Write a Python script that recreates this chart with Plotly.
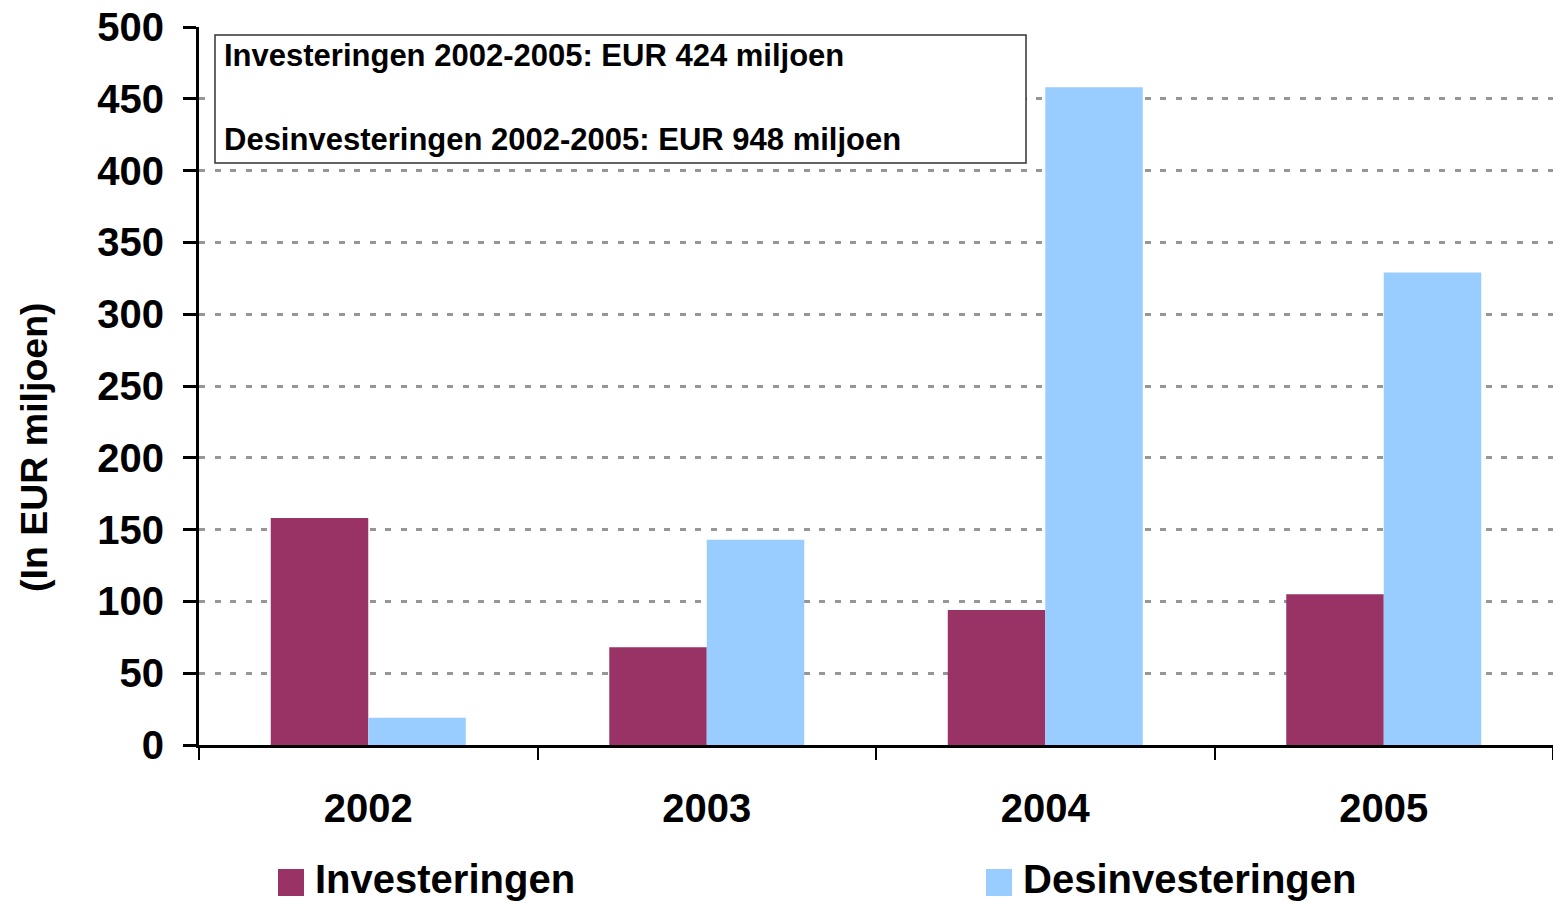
import plotly.graph_objects as go

# ---- data ----
years = ["2002", "2003", "2004", "2005"]
investeringen = [158, 68, 94, 105]
desinvesteringen = [19, 143, 458, 329]
series_names = ["Investeringen", "Desinvesteringen"]
box_lines = ["Investeringen 2002-2005: EUR 424 miljoen",
             "Desinvesteringen 2002-2005: EUR 948 miljoen"]
y_title = "(In EUR miljoen)"
y_ticks = list(range(0, 501, 50))

# ---- style ----
W, H = 1553, 902
L, R, T, B = 199, 0, 27, 902 - 745
FONT = "Liberation Sans, Arial, sans-serif"
C_INV = "#993366"
C_DES = "#99CCFF"
PW = W - L - R
PH = H - T - B


def px_x(p):
    return (p - L) / PW


def px_y(p):
    return (H - B - p) / PH


fig = go.Figure()
fig.add_trace(go.Bar(x=years, y=investeringen, name=series_names[0],
                     marker=dict(color=C_INV, line=dict(width=0))))
fig.add_trace(go.Bar(x=years, y=desinvesteringen, name=series_names[1],
                     marker=dict(color=C_DES, line=dict(width=0))))

shapes = [
    dict(type="rect", xref="paper", yref="paper",
         x0=px_x(215), x1=px_x(1026), y0=px_y(35), y1=px_y(163),
         line=dict(color="#333333", width=1.5), fillcolor="white", layer="above"),
    dict(type="rect", xref="paper", yref="paper",
         x0=px_x(278), x1=px_x(304), y0=px_y(869), y1=px_y(896),
         line=dict(width=0), fillcolor=C_INV),
    dict(type="rect", xref="paper", yref="paper",
         x0=px_x(986), x1=px_x(1012), y0=px_y(869), y1=px_y(896),
         line=dict(width=0), fillcolor=C_DES),
]

annotations = [
    dict(text=box_lines[0], xref="paper", yref="paper", x=px_x(222), y=px_y(56),
         xanchor="left", yanchor="middle", showarrow=False,
         font=dict(family=FONT, size=31, color="black", weight="bold")),
    dict(text=box_lines[1], xref="paper", yref="paper", x=px_x(222), y=px_y(139),
         xanchor="left", yanchor="middle", showarrow=False,
         font=dict(family=FONT, size=31, color="black", weight="bold")),
    dict(text=series_names[0], xref="paper", yref="paper", x=px_x(313), y=px_y(879),
         xanchor="left", yanchor="middle", showarrow=False,
         font=dict(family=FONT, size=40, color="black", weight="bold")),
    dict(text=series_names[1], xref="paper", yref="paper", x=px_x(1021), y=px_y(879),
         xanchor="left", yanchor="middle", showarrow=False,
         font=dict(family=FONT, size=40, color="black", weight="bold")),
    dict(text=y_title, xref="paper", yref="paper", x=px_x(34), y=px_y(447),
         xanchor="center", yanchor="middle", textangle=-90, showarrow=False,
         font=dict(family=FONT, size=37.5, color="black", weight="bold")),
]

fig.update_layout(
    width=W, height=H,
    margin=dict(l=L, r=R, t=T, b=B, pad=0, autoexpand=False),
    paper_bgcolor="white", plot_bgcolor="white",
    barmode="group", bargap=0.424, bargroupgap=0,
    showlegend=False,
    shapes=shapes, annotations=annotations,
    font=dict(family=FONT, color="black"),
)

fig.update_xaxes(
    type="category", showline=True, linecolor="black", linewidth=3,
    ticks="outside", tickson="boundaries", ticklen=12, tickwidth=2, tickcolor="black",
    showgrid=False, ticklabelstandoff=26, ticklabeloverflow="allow", automargin=False,
    tickfont=dict(family=FONT, size=40, color="black", weight="bold"),
)
fig.update_yaxes(
    range=[0, 500], tickvals=y_ticks, showline=True, linecolor="black", linewidth=3,
    ticks="outside", ticklen=13, tickwidth=3, tickcolor="black",
    showgrid=True, gridcolor="#969696", gridwidth=2.5, griddash="6px,9.5px",
    zeroline=False, ticklabelstandoff=11, ticklabeloverflow="allow", automargin=False,
    tickfont=dict(family=FONT, size=40, color="black", weight="bold"),
)

fig.write_html(
    "out.html",
    config={"displayModeBar": False},
    post_script="document.body.style.margin='0';document.body.style.overflow='hidden';",
)
